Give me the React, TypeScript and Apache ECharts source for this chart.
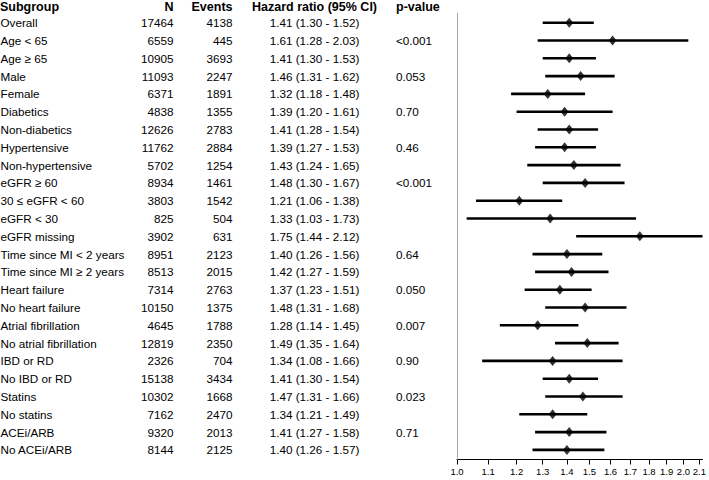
import React, { useEffect, useRef } from "react";
import * as echarts from "echarts";

const subgroups = [
  "Overall", "Age < 65", "Age \u2265 65", "Male", "Female", "Diabetics", "Non-diabetics",
  "Hypertensive", "Non-hypertensive", "eGFR \u2265 60", "30 \u2264 eGFR < 60", "eGFR < 30",
  "eGFR missing", "Time since MI < 2 years", "Time since MI \u2265 2 years", "Heart failure",
  "No heart failure", "Atrial fibrillation", "No atrial fibrillation", "IBD or RD",
  "No IBD or RD", "Statins", "No statins", "ACEi/ARB", "No ACEi/ARB",
];
const nValues = [17464, 6559, 10905, 11093, 6371, 4838, 12626, 11762, 5702, 8934, 3803, 825, 3902, 8951, 8513, 7314, 10150, 4645, 12819, 2326, 15138, 10302, 7162, 9320, 8144];
const eventValues = [4138, 445, 3693, 2247, 1891, 1355, 2783, 2884, 1254, 1461, 1542, 504, 631, 2123, 2015, 2763, 1375, 1788, 2350, 704, 3434, 1668, 2470, 2013, 2125];
const hrValues = [1.41, 1.61, 1.41, 1.46, 1.32, 1.39, 1.41, 1.39, 1.43, 1.48, 1.21, 1.33, 1.75, 1.40, 1.42, 1.37, 1.48, 1.28, 1.49, 1.34, 1.41, 1.47, 1.34, 1.41, 1.40];
const loValues = [1.30, 1.28, 1.30, 1.31, 1.18, 1.20, 1.28, 1.27, 1.24, 1.30, 1.06, 1.03, 1.44, 1.26, 1.27, 1.23, 1.31, 1.14, 1.35, 1.08, 1.30, 1.31, 1.21, 1.27, 1.26];
const hiValues = [1.52, 2.03, 1.53, 1.62, 1.48, 1.61, 1.54, 1.53, 1.65, 1.67, 1.38, 1.73, 2.12, 1.56, 1.59, 1.51, 1.68, 1.45, 1.64, 1.66, 1.54, 1.66, 1.49, 1.58, 1.57];
const pValues = ["", "<0.001", "", "0.053", "", "0.70", "", "0.46", "", "<0.001", "", "", "", "0.64", "", "0.050", "", "0.007", "", "0.90", "", "0.023", "", "0.71", ""];
const headers = ["Subgroup", "N", "Events", "Hazard ratio (95% CI)", "p-value"];
const xTicks = [1.0, 1.1, 1.2, 1.3, 1.4, 1.5, 1.6, 1.7, 1.8, 1.9, 2.0, 2.1];

const FONT = "'Liberation Sans', Arial, sans-serif";

export default function App() {
  const ref = useRef<HTMLDivElement>(null);
  useEffect(() => {
    document.body.style.margin = "0";
    if (!ref.current) return;
    const chart = echarts.init(ref.current, undefined, { renderer: "svg" });

    const tableData: number[][] = [[1, -1]];
    subgroups.forEach((_, i) => tableData.push([1, i]));

    const ciData = subgroups.map((_, i) => [loValues[i], hiValues[i], i]);
    const pointData = subgroups.map((_, i) => [hrValues[i], i]);

    const txt = (x: number, y: number, text: string, align: string, bold: boolean) => ({
      type: "text",
      x,
      y,
      style: {
        text,
        align,
        verticalAlign: "middle",
        fontFamily: FONT,
        fontSize: bold ? 12.5 : 11.7,
        fontWeight: bold ? "bold" : "normal",
        fill: "#000",
      },
    });

    const option: any = {
      animation: false,
      backgroundColor: "#fff",
      grid: { left: 457, right: 2.8, top: 13, bottom: 20.5 },
      xAxis: {
        type: "log",
        logBase: 10,
        min: 1,
        max: 2.12,
        splitLine: { show: false },
        axisLine: { show: true, onZero: false, lineStyle: { color: "#000", width: 1 } },
        axisTick: { show: true, length: 5, customValues: xTicks, lineStyle: { color: "#000", width: 1 } },
        axisLabel: {
          customValues: xTicks,
          formatter: (v: number) => v.toFixed(1),
          fontSize: 9.5,
          fontFamily: FONT,
          color: "#000",
          margin: 7,
        },
      },
      yAxis: { type: "value", inverse: true, min: -0.545, max: 24.54, show: false },
      series: [
        {
          type: "custom",
          clip: false,
          silent: true,
          data: tableData,
          encode: { x: 0, y: 1 },
          renderItem: (params: any, api: any) => {
            const row = api.value(1);
            const y = api.coord([1, row])[1];
            if (row < 0) {
              const hy = y + 1.6;
              return {
                type: "group",
                children: [
                  txt(0, hy, headers[0], "left", true),
                  txt(173.5, hy, headers[1], "right", true),
                  txt(232.5, hy, headers[2], "right", true),
                  txt(314.5, hy, headers[3], "center", true),
                  txt(396, hy, headers[4], "left", true),
                ],
              };
            }
            const i = row;
            const hrText = `${hrValues[i].toFixed(2)} (${loValues[i].toFixed(2)} - ${hiValues[i].toFixed(2)})`;
            return {
              type: "group",
              children: [
                txt(0.5, y, subgroups[i], "left", false),
                txt(173.5, y, String(nValues[i]), "right", false),
                txt(232.5, y, String(eventValues[i]), "right", false),
                txt(314.5, y, hrText, "center", false),
                txt(396, y, pValues[i], "left", false),
              ],
            };
          },
        },
        {
          type: "custom",
          clip: false,
          silent: true,
          data: ciData,
          encode: { x: [0, 1], y: 2 },
          renderItem: (params: any, api: any) => {
            const p1 = api.coord([api.value(0), api.value(2)]);
            const p2 = api.coord([api.value(1), api.value(2)]);
            return {
              type: "line",
              shape: { x1: p1[0], y1: p1[1], x2: p2[0], y2: p2[1] },
              style: { stroke: "#000", lineWidth: 2.6 },
            };
          },
        },
        {
          type: "scatter",
          symbol: "diamond",
          symbolSize: [8, 10],
          itemStyle: { color: "#000" },
          data: pointData,
          z: 5,
          markLine: {
            silent: true,
            symbol: "none",
            label: { show: false },
            lineStyle: { color: "#a8a8a8", type: "solid", width: 1 },
            data: [{ xAxis: 1 }],
          },
        },
      ],
    };
    chart.setOption(option);
    return () => chart.dispose();
  }, []);
  return <div ref={ref} style={{ width: 709, height: 480 }} />;
}
